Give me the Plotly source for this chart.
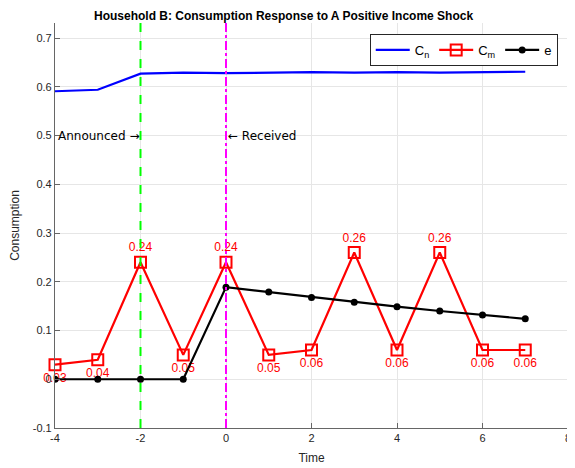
import plotly.graph_objects as go

time = [-4, -3, -2, -1, 0, 1, 2, 3, 4, 5, 6, 7]
c_n = [0.591, 0.594, 0.627, 0.629, 0.628, 0.629, 0.630, 0.629, 0.630, 0.629, 0.630, 0.631]
c_m = [0.03, 0.04, 0.24, 0.05, 0.24, 0.05, 0.06, 0.26, 0.06, 0.26, 0.06, 0.06]
e = [0.0, 0.0, 0.0, 0.0, 0.189, 0.179, 0.168, 0.158, 0.149, 0.140, 0.132, 0.124]
announce_t = -2
receive_t = 0
x_ticks = [-4, -2, 0, 2, 4, 6, 8]
x_tick_labels = ["-4", "-2", "0", "2", "4", "6", "8"]
y_ticks = [-0.1, 0, 0.1, 0.2, 0.3, 0.4, 0.5, 0.6, 0.7]
y_tick_labels = ["-0.1", "0", "0.1", "0.2", "0.3", "0.4", "0.5", "0.6", "0.7"]

font_family = "Liberation Sans, Arial, Helvetica, sans-serif"

labels = [f"{v:.2f}" for v in c_m]
positions = []
for i, v in enumerate(c_m):
    left = c_m[i - 1] if i > 0 else -1
    right = c_m[i + 1] if i < len(c_m) - 1 else -1
    positions.append("top center" if (v > left and v > right and v > 0.1) else "bottom center")

fig = go.Figure()
fig.add_trace(go.Scatter(x=time, y=c_n, mode="lines", name="C<sub>n</sub>",
                         line=dict(color="#0000ff", width=2.2)))
fig.add_trace(go.Scatter(x=time, y=c_m, mode="lines+markers+text", name="C<sub>m</sub>",
                         line=dict(color="#ff0000", width=2.2),
                         marker=dict(symbol="square-open", size=11, color="#ff0000",
                                     line=dict(width=2, color="#ff0000")),
                         text=labels, textposition=positions, cliponaxis=False,
                         textfont=dict(color="#ff0000", size=12, family=font_family)))
fig.add_trace(go.Scatter(x=time, y=e, mode="lines+markers", name="e",
                         line=dict(color="#000000", width=2.2),
                         marker=dict(symbol="circle", size=7, color="#000000")))

fig.add_shape(type="line", x0=announce_t, x1=announce_t, y0=0, y1=1, yref="paper",
              line=dict(color="#00ff00", width=2, dash="dash"))
fig.add_shape(type="line", x0=receive_t, x1=receive_t, y0=0, y1=1, yref="paper",
              line=dict(color="#ff00ff", width=2, dash="dashdot"))

fig.add_annotation(x=announce_t, y=0.5, text="Announced \u2192", showarrow=False,
                   xanchor="right", yanchor="middle",
                   font=dict(size=12, color="#000000", family="DejaVu Sans, " + font_family))
fig.add_annotation(x=receive_t, y=0.5, text="\u2190 Received", showarrow=False,
                   xanchor="left", yanchor="middle",
                   font=dict(size=12, color="#000000", family="DejaVu Sans, " + font_family))

axis_common = dict(showgrid=True, gridcolor="#e6e6e6", gridwidth=1,
                   showline=True, linecolor="#666666", linewidth=1.2,
                   ticks="inside", ticklen=5, tickcolor="#666666",
                   tickfont=dict(size=11, color="#262626", family=font_family),
                   zeroline=False, mirror=False, automargin=False)

fig.update_layout(
    width=567, height=460,
    margin=dict(l=47, r=7, t=15, b=40),
    paper_bgcolor="white", plot_bgcolor="white",
    title=dict(text="<b>Household B: Consumption Response to A Positive Income Shock</b>",
               x=0.486, xanchor="center", xref="container",
               y=0.993, yanchor="top", yref="container", pad=dict(t=0, b=0),
               font=dict(size=12, color="#000000", family=font_family)),
    xaxis=dict(range=[-4, 8], tickmode="array", tickvals=x_ticks, ticktext=x_tick_labels,
               title=dict(text="Time", standoff=10,
                          font=dict(size=12, color="#262626", family=font_family)),
               **axis_common),
    yaxis=dict(range=[-0.1, 0.731], tickmode="array", tickvals=y_ticks, ticktext=y_tick_labels,
               title=dict(text="Consumption", standoff=11,
                          font=dict(size=12, color="#262626", family=font_family)),
               **axis_common),
    legend=dict(orientation="h", x=0.98, xanchor="right", y=0.973, yanchor="top",
                bgcolor="white", bordercolor="#262626", borderwidth=1,
                font=dict(size=13, color="#000000", family=font_family),
                itemwidth=34, tracegroupgap=0),
    showlegend=True,
)

fig.write_html("out.html")
